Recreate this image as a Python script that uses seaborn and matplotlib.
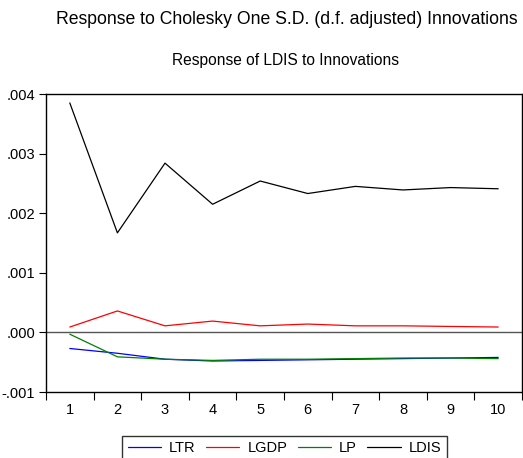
import pandas as pd
import matplotlib
matplotlib.use('Agg')
import matplotlib.pyplot as plt
import seaborn as sns

# impulse responses of LDIS, periods 1..10
periods = [1, 2, 3, 4, 5, 6, 7, 8, 9, 10]
ltr = [-0.00027, -0.00035, -0.00045, -0.00048, -0.00047, -0.00046, -0.00045, -0.00044, -0.00043, -0.00042]
lgdp = [0.00009, 0.00036, 0.00011, 0.00019, 0.00011, 0.00014, 0.00011, 0.00011, 0.00010, 0.00009]
lp = [-0.00003, -0.00041, -0.00045, -0.00047, -0.00045, -0.00045, -0.00044, -0.00043, -0.00043, -0.00044]
ldis = [0.00385, 0.00167, 0.00284, 0.00215, 0.00254, 0.00233, 0.00245, 0.00239, 0.00243, 0.00241]

series_names = ['LTR', 'LGDP', 'LP', 'LDIS']
colors = ['#0000ff', '#ff0000', '#008000', '#000000']

df = pd.DataFrame({'Period': periods, 'LTR': ltr, 'LGDP': lgdp, 'LP': lp, 'LDIS': ldis})
long_df = df.melt(id_vars='Period', var_name='Variable', value_name='Response')

sns.set_style('white')
plt.rcParams['font.family'] = ['Liberation Sans', 'DejaVu Sans']
plt.rcParams['text.color'] = 'black'
plt.rcParams['xtick.color'] = 'black'
plt.rcParams['ytick.color'] = 'black'

fig = plt.figure(figsize=(5.23, 4.58), dpi=100)
ax = fig.add_axes([46 / 523, 1 - 392 / 458, 476 / 523, 298 / 458])

sns.lineplot(data=long_df, x='Period', y='Response', hue='Variable',
             hue_order=series_names, palette=colors, linewidth=0.9, ax=ax)

ax.axhline(0, color='#555555', linewidth=1.0, zorder=0)

ax.set_xlim(0.5, 10.5)
ax.set_ylim(-0.001, 0.004)
ax.set_xticks([p + 0.5 for p in [0] + periods])
ax.set_xticklabels([])
ax.set_xticks(periods, minor=True)
ax.set_xticklabels([str(p) for p in periods], minor=True, fontsize=10.5)
ax.tick_params(axis='x', which='major', direction='out', length=6, width=0.8, bottom=True)
ax.tick_params(axis='x', which='minor', length=0, pad=8)
ax.set_yticks([-0.001, 0.0, 0.001, 0.002, 0.003, 0.004])
ax.set_yticklabels(['-.001', '.000', '.001', '.002', '.003', '.004'], fontsize=10.5)
ax.tick_params(axis='y', direction='out', length=5, width=0.8, left=True, pad=3)
ax.set_xlabel('')
ax.set_ylabel('')
for sp in ax.spines.values():
    sp.set_color('black')
    sp.set_linewidth(1.0)

fig.text(287 / 523, 1 - 20 / 458, 'Response to Cholesky One S.D. (d.f. adjusted) Innovations',
         ha='center', va='center', fontsize=12.7)
fig.text(285 / 523, 1 - 61 / 458, 'Response of LDIS to Innovations',
         ha='center', va='center', fontsize=11.2)

handles, labels = ax.get_legend_handles_labels()
ax.legend(handles, labels, loc='upper center', bbox_to_anchor=(284.5 / 523, 1 - 436 / 458),
          bbox_transform=fig.transFigure, ncol=4, frameon=True, fancybox=False,
          edgecolor='black', fontsize=10.5, handlelength=2.3, columnspacing=0.7,
          borderpad=0.35, handletextpad=0.55, borderaxespad=0)

fig.savefig('out.png', dpi=100)
